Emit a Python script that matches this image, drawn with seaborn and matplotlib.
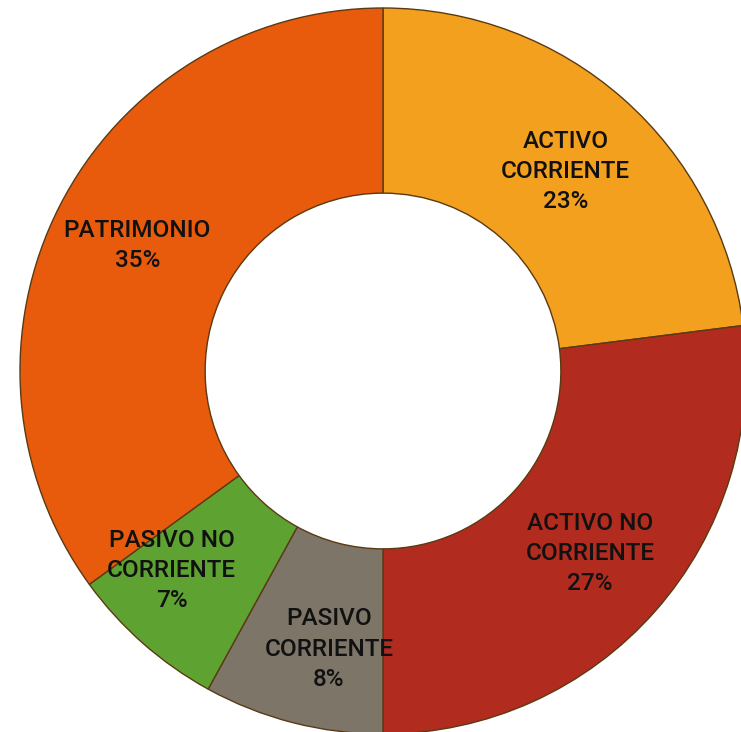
import matplotlib.pyplot as plt
import seaborn as sns

categories = ['ACTIVO\nCORRIENTE', 'ACTIVO NO\nCORRIENTE', 'PASIVO\nCORRIENTE',
              'PASIVO NO\nCORRIENTE', 'PATRIMONIO']
shares = [23, 27, 8, 7, 35]
colors = ['#F3A01F', '#B22B1F', '#7D7567', '#5EA332', '#E85A0C']
# small label nudges (data units) for the narrow slices
nudges = [(0, -0.02), (0, 0), (0.04, -0.03), (-0.08, 0.02), (0, 0)]

sns.set_theme(style='white')
plt.rcParams['font.family'] = ['Roboto', 'DejaVu Sans']

fig = plt.figure(figsize=(7.41, 7.32), dpi=100)
ax = fig.add_axes([20 / 741, -2 / 732, 726 / 741, 726 / 732])

wedges, texts, autotexts = ax.pie(
    shares,
    colors=sns.color_palette(colors),
    startangle=90,
    counterclock=False,
    radius=1,
    autopct='%d%%',
    pctdistance=0.76,
    wedgeprops=dict(width=0.51, edgecolor='#5a3a12', linewidth=1.0),
    textprops=dict(fontsize=17.5, color='#111111', fontweight='medium'),
)

# put category name above the percentage in the same label
for name, pct, (dx, dy) in zip(categories, autotexts, nudges):
    pct.set_text(name + '\n' + pct.get_text())
    pct.set_linespacing(1.4)
    pct.set_horizontalalignment('center')
    x, y = pct.get_position()
    pct.set_position((x + dx, y + dy))

ax.set_xlim(-1, 1)
ax.set_ylim(-1, 1)
ax.set_aspect('equal')
ax.axis('off')

fig.savefig('out.png', dpi=100)
